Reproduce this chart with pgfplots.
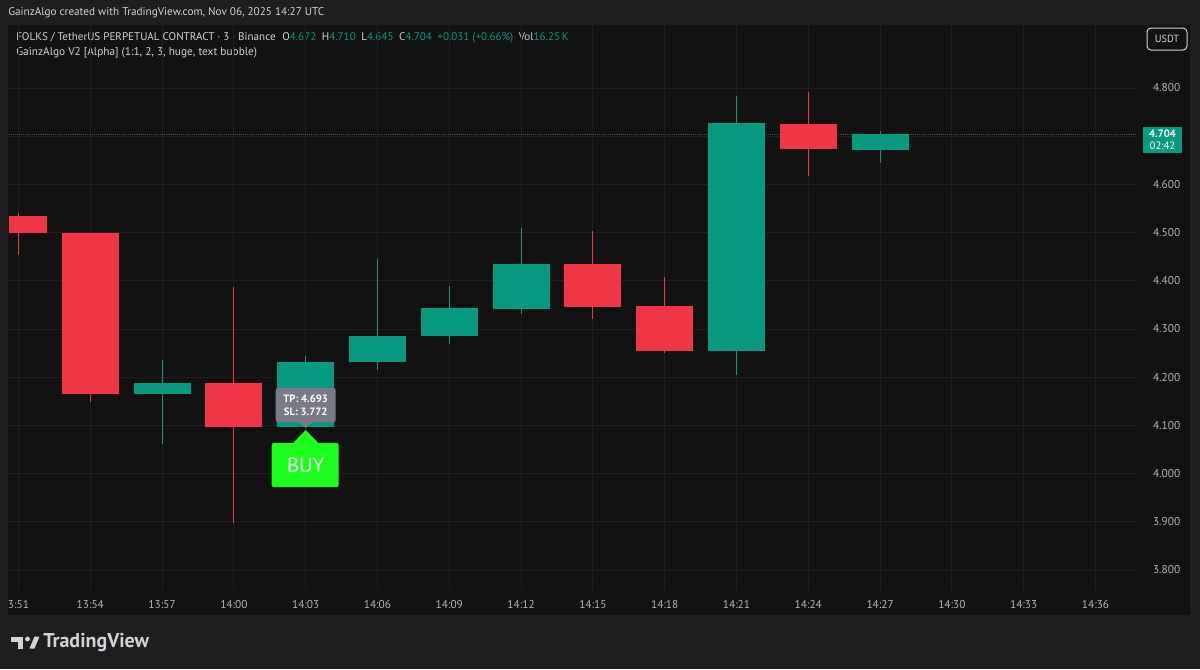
\documentclass[border=0pt]{standalone}
\usepackage{pgfplots}
\pgfplotsset{compat=1.18}
\usepackage{pgfplotstable}
\usepackage{fontspec}
\setmainfont{PT Sans}
\definecolor{outerbg}{HTML}{1E1E1E}
\definecolor{panelbg}{HTML}{121212}
\definecolor{gridc}{HTML}{1F1F1F}
\definecolor{tvred}{HTML}{F23645}
\definecolor{tvgreen}{HTML}{089981}
\definecolor{hdr}{HTML}{D1D4DC}
\definecolor{axlab}{HTML}{B2B5BE}
\definecolor{buyg}{HTML}{1CFF1C}
\definecolor{bubg}{HTML}{787B86}

\pgfplotstableread{
x open high low close
0 4.534 4.541 4.454 4.499
1 4.499 4.500 4.149 4.165
3 4.187 4.388 3.898 4.097
8 4.435 4.503 4.321 4.346
9 4.348 4.407 4.251 4.254
11 4.726 4.791 4.618 4.673
}\redc
\pgfplotstableread{
x open high low close
2 4.165 4.236 4.061 4.189
4 4.097 4.243 4.097 4.231
5 4.231 4.445 4.215 4.286
6 4.285 4.389 4.269 4.343
7 4.342 4.509 4.331 4.435
10 4.254 4.783 4.205 4.727
12 4.672 4.710 4.645 4.704
}\greenc

\begin{document}
\begin{tikzpicture}
% backgrounds in pixel frame (1px = 0.75pt, y downwards)
\begin{scope}[x=0.75pt,y=-0.75pt]
  \fill[outerbg] (0,0) rectangle (1200,669);
  \fill[panelbg] (8,25) rectangle (1190,615);
  \node[anchor=west, inner sep=0pt, text=hdr, font=\fontsize{8.4}{9}\selectfont] at (8,13)
    {GainzAlgo created with TradingView.com, Nov 06, 2025 14:27 UTC};
  \node[anchor=west, inner sep=0pt, text=hdr, font=\fontsize{8.3}{9}\selectfont] at (16,38)
    {FOLKS / TetherUS PERPETUAL CONTRACT · 3 · Binance\hspace{0.6em}O\textcolor{tvgreen}{4.672}\hspace{0.5em}H\textcolor{tvgreen}{4.710}\hspace{0.5em}L\textcolor{tvgreen}{4.645}\hspace{0.5em}C\textcolor{tvgreen}{4.704}\hspace{0.5em}\textcolor{tvgreen}{+0.031 (+0.66\%)}\hspace{0.5em}Vol\textcolor{tvgreen}{16.25\,K}};
  \node[anchor=west, inner sep=0pt, text=hdr, font=\fontsize{8.5}{9}\selectfont] at (16,53)
    {GainzAlgo V2 [Alpha] (1:1, 2, 3, huge, text bubble)};
  % USDT button
  \draw[draw=black!70!white!25, fill=panelbg, rounded corners=3pt, line width=0.75pt] (1147,28) rectangle (1187,50);
  \node[text=hdr, font=\fontsize{7.8}{8}\selectfont] at (1167,39) {USDT};
  % logo
  \fill[hdr] (11,636.5) rectangle (23,641.5);
  \fill[hdr] (17.5,636.5) rectangle (23,648.5);
  \fill[hdr] (27.5,639) circle (2.4);
  \fill[hdr] (29.5,648.5) -- (34.5,636.5) -- (39.5,636.5) -- (34.5,648.5) -- cycle;
  \node[anchor=west, inner sep=0pt, text=hdr, font=\bfseries\fontsize{15}{16}\selectfont] at (43,642) {TradingView};
\end{scope}

\begin{axis}[
  at={(6.75pt,-442.5pt)}, anchor=south west,
  scale only axis, width=846pt, height=423.75pt,
  xmin=-0.132, xmax=15.578, ymin=3.7585, ymax=4.9307,
  axis line style={draw=none}, major tick length=0pt,
  xtick={0,...,15},
  xticklabels={3:51,13:54,13:57,14:00,14:03,14:06,14:09,14:12,14:15,14:18,14:21,14:24,14:27,14:30,14:33,14:36},
  ytick={3.8,3.9,4.0,4.1,4.2,4.3,4.4,4.5,4.6,4.7,4.8},
  yticklabels={3.800,3.900,4.000,4.100,4.200,4.300,4.400,4.500,4.600,,4.800},
  yticklabel pos=right,
  grid=major, major grid style={draw=gridc, line width=0.75pt},
  tick label style={font=\fontsize{8.5}{9}\selectfont, text=axlab},
  xticklabel style={yshift=-4.5pt},
  yticklabel style={anchor=west, xshift=8.5pt},
]
\addplot[tvgreen!70!panelbg, densely dotted, line width=0.6pt, forget plot] coordinates {(-1,4.704) (16,4.704)};
% wicks
\addplot[draw=none, mark=none, forget plot, error bars/.cd, y dir=plus, y explicit, error mark=none,
  error bar style={draw=tvred, line width=0.75pt, solid}]
  table[x=x, y=low, y error expr=\thisrow{high}-\thisrow{low}] {\redc};
\addplot[draw=none, mark=none, forget plot, error bars/.cd, y dir=plus, y explicit, error mark=none,
  error bar style={draw=tvgreen, line width=0.75pt, solid}]
  table[x=x, y=low, y error expr=\thisrow{high}-\thisrow{low}] {\greenc};
% bodies
\addplot[draw=none, mark=none, forget plot, error bars/.cd, y dir=plus, y explicit, error mark=none,
  error bar style={draw=tvred, line width=42.75pt, solid}]
  table[x=x, y=close, y error expr=\thisrow{open}-\thisrow{close}] {\redc};
\addplot[draw=none, mark=none, forget plot, error bars/.cd, y dir=plus, y explicit, error mark=none,
  error bar style={draw=tvgreen, line width=42.75pt, solid}]
  table[x=x, y=open, y error expr=\thisrow{close}-\thisrow{open}] {\greenc};
\coordinate (apex) at (axis cs:4,4.0946);
\end{axis}

% signal bubbles anchored at candle 4
\begin{scope}[shift={(apex)}, x=0.75pt, y=-0.75pt]
  \fill[bubg, rounded corners=1.5pt] (-30,-40) rectangle (30,-6);
  \fill[bubg] (-7,-6.5) -- (7,-6.5) -- (0,0) -- cycle;
  \node[text=white, font=\bfseries\fontsize{8}{9}\selectfont] at (0,-29.5) {TP: 4.693};
  \node[text=white, font=\bfseries\fontsize{8}{9}\selectfont] at (0,-16.5) {SL: 3.772};
  \fill[buyg, rounded corners=1.5pt] (-34,15) rectangle (33,59);
  \fill[buyg] (-13,15.5) -- (13,15.5) -- (0,2) -- cycle;
  \node[text=white, font=\fontsize{15.5}{16}\selectfont] at (0,37) {BUY};
\end{scope}

% last price label
\begin{scope}[x=0.75pt,y=-0.75pt]
  \fill[tvgreen] (1143,127) rectangle (1182,153);
  \node[text=white, font=\bfseries\fontsize{8}{9}\selectfont] at (1162.5,134) {4.704};
  \node[text=white, font=\fontsize{8}{9}\selectfont] at (1162.5,146) {02:42};
  \pgfresetboundingbox
  \path[use as bounding box] (0,0) rectangle (1200,669);
\end{scope}
\end{tikzpicture}
\end{document}
